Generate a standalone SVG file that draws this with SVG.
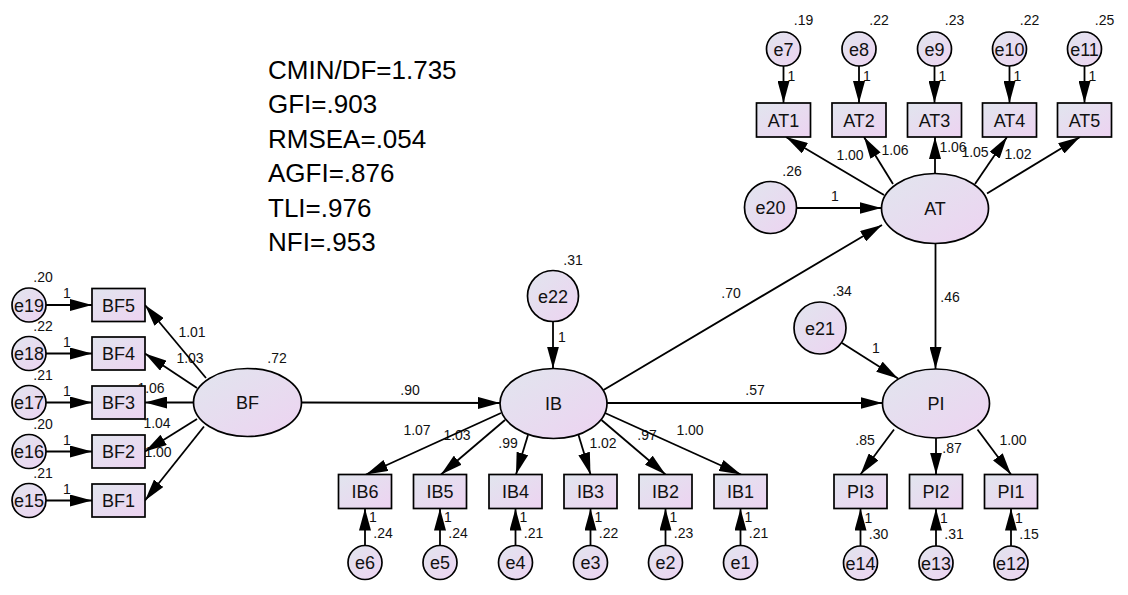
<svg xmlns="http://www.w3.org/2000/svg" width="1128" height="595" viewBox="0 0 1128 595">
<defs>
<linearGradient id="g" x1="0" y1="0" x2="1" y2="1">
<stop offset="0" stop-color="#e1e5ee"/>
<stop offset="1" stop-color="#edd3f1"/>
</linearGradient>
<marker id="arr" markerUnits="userSpaceOnUse" markerWidth="22" markerHeight="12" refX="22" refY="6" orient="auto">
<path d="M0,0 L22,6 L0,12 z" fill="#000"/>
</marker>
<style>
.n{fill:url(#g);stroke:#000;stroke-width:1.7}
.c{stroke:#000;stroke-width:1.8;fill:none;marker-end:url(#arr)}
.t{font-family:"Liberation Sans",Arial,sans-serif;font-size:18px;fill:#111;text-anchor:middle}
.s{font-family:"Liberation Sans",Arial,sans-serif;font-size:14px;fill:#111;text-anchor:middle}
.f{font-family:"Liberation Sans",Arial,sans-serif;font-size:26px;fill:#000}
</style>
</defs>
<rect width="1128" height="595" fill="#fff"/>

<g id="fit">
<text class="f" x="268" y="78.5">CMIN/DF=1.735</text>
<text class="f" x="268" y="113">GFI=.903</text>
<text class="f" x="268" y="147.5">RMSEA=.054</text>
<text class="f" x="268" y="182">AGFI=.876</text>
<text class="f" x="268" y="216.5">TLI=.976</text>
<text class="f" x="268" y="251">NFI=.953</text>
</g>

<g id="labels">
<!-- BF loadings -->
<text class="s" x="192" y="337">1.01</text>
<text class="s" x="190" y="363">1.03</text>
<text class="s" x="151" y="393">1.06</text>
<text class="s" x="157" y="428">1.04</text>
<text class="s" x="158" y="457">1.00</text>
<text class="s" x="277" y="363">.72</text>
<!-- BF errors -->
<text class="s" x="43" y="282">.20</text>
<text class="s" x="43" y="330.5">.22</text>
<text class="s" x="43" y="379.5">.21</text>
<text class="s" x="43" y="428.5">.20</text>
<text class="s" x="43" y="477.5">.21</text>
<text class="s" x="67" y="298">1</text>
<text class="s" x="67" y="346.5">1</text>
<text class="s" x="67" y="395.5">1</text>
<text class="s" x="67" y="444.5">1</text>
<text class="s" x="67" y="493.5">1</text>
<!-- structural -->
<text class="s" x="410" y="395">.90</text>
<text class="s" x="731" y="298">.70</text>
<text class="s" x="755" y="395">.57</text>
<text class="s" x="950" y="302">.46</text>
<text class="s" x="573" y="265">.31</text>
<text class="s" x="562" y="342">1</text>
<text class="s" x="792" y="176">.26</text>
<text class="s" x="835" y="201">1</text>
<text class="s" x="842" y="295.5">.34</text>
<text class="s" x="876" y="353">1</text>
<!-- IB loadings -->
<text class="s" x="417" y="435">1.07</text>
<text class="s" x="457" y="440">1.03</text>
<text class="s" x="508" y="448">.99</text>
<text class="s" x="603" y="448">1.02</text>
<text class="s" x="647" y="440">.97</text>
<text class="s" x="690" y="435">1.00</text>
<!-- IB errors -->
<text class="s" x="373" y="522">1</text>
<text class="s" x="448" y="522">1</text>
<text class="s" x="523.5" y="522">1</text>
<text class="s" x="598.5" y="522">1</text>
<text class="s" x="673.5" y="522">1</text>
<text class="s" x="748.5" y="522">1</text>
<text class="s" x="383" y="538">.24</text>
<text class="s" x="458" y="538">.24</text>
<text class="s" x="533.5" y="538">.21</text>
<text class="s" x="608.5" y="538">.22</text>
<text class="s" x="683.5" y="538">.23</text>
<text class="s" x="758.5" y="538">.21</text>
<!-- PI -->
<text class="s" x="865" y="445">.85</text>
<text class="s" x="952" y="453">.87</text>
<text class="s" x="1013" y="445">1.00</text>
<text class="s" x="868.5" y="523">1</text>
<text class="s" x="944" y="523">1</text>
<text class="s" x="1019" y="523">1</text>
<text class="s" x="878.5" y="539">.30</text>
<text class="s" x="954" y="539">.31</text>
<text class="s" x="1029" y="539">.15</text>
<!-- AT loadings -->
<text class="s" x="850" y="160">1.00</text>
<text class="s" x="895" y="155">1.06</text>
<text class="s" x="953" y="152">1.06</text>
<text class="s" x="975" y="157">1.05</text>
<text class="s" x="1018" y="159">1.02</text>
<!-- AT errors -->
<text class="s" x="803.5" y="25">.19</text>
<text class="s" x="879" y="25">.22</text>
<text class="s" x="954.5" y="25">.23</text>
<text class="s" x="1029.5" y="25">.22</text>
<text class="s" x="1104.5" y="25">.25</text>
<text class="s" x="791.5" y="81">1</text>
<text class="s" x="867" y="81">1</text>
<text class="s" x="942.5" y="81">1</text>
<text class="s" x="1017.5" y="81">1</text>
<text class="s" x="1092.5" y="81">1</text>
</g>

<g id="connectors">
<!-- BF errors -->
<line class="c" x1="46" y1="305" x2="92" y2="305"/>
<line class="c" x1="46" y1="353.5" x2="92" y2="353.5"/>
<line class="c" x1="46" y1="402.5" x2="92" y2="402.5"/>
<line class="c" x1="46" y1="451.5" x2="92" y2="451.5"/>
<line class="c" x1="46" y1="500.5" x2="92" y2="500.5"/>
<!-- BF loadings -->
<line class="c" x1="206" y1="378" x2="145" y2="305"/>
<line class="c" x1="197" y1="388" x2="145" y2="353.5"/>
<line class="c" x1="193.5" y1="402.5" x2="145" y2="402.5"/>
<line class="c" x1="197" y1="419" x2="145" y2="451.5"/>
<line class="c" x1="204" y1="426.5" x2="145" y2="500.5"/>
<!-- structural -->
<line class="c" x1="301.5" y1="402.5" x2="500" y2="403"/>
<line class="c" x1="603.5" y1="390" x2="882" y2="225"/>
<line class="c" x1="607" y1="403" x2="882.5" y2="403"/>
<line class="c" x1="935.5" y1="243.5" x2="935.5" y2="369"/>
<line class="c" x1="553" y1="321.5" x2="553" y2="368.5"/>
<line class="c" x1="796.5" y1="208" x2="881.5" y2="208"/>
<line class="c" x1="842" y1="343" x2="898" y2="378.5"/>
<!-- IB loadings -->
<line class="c" x1="501" y1="413" x2="366" y2="474.5"/>
<line class="c" x1="505" y1="420" x2="441" y2="474.5"/>
<line class="c" x1="528" y1="435" x2="516" y2="474.5"/>
<line class="c" x1="578.5" y1="435" x2="590.5" y2="474.5"/>
<line class="c" x1="601.5" y1="420" x2="665.5" y2="474.5"/>
<line class="c" x1="605" y1="413" x2="741" y2="474.5"/>
<!-- IB errors -->
<line class="c" x1="365" y1="545.5" x2="365" y2="508.5"/>
<line class="c" x1="440" y1="545.5" x2="440" y2="508.5"/>
<line class="c" x1="515.5" y1="545.5" x2="515.5" y2="508.5"/>
<line class="c" x1="590.5" y1="545.5" x2="590.5" y2="508.5"/>
<line class="c" x1="665.5" y1="545.5" x2="665.5" y2="508.5"/>
<line class="c" x1="740.5" y1="545.5" x2="740.5" y2="508.5"/>
<!-- PI loadings -->
<line class="c" x1="894" y1="429.5" x2="860.5" y2="474.5"/>
<line class="c" x1="936" y1="438" x2="936" y2="474.5"/>
<line class="c" x1="977.5" y1="429.5" x2="1011" y2="474.5"/>
<!-- PI errors -->
<line class="c" x1="860.5" y1="546" x2="860.5" y2="508.5"/>
<line class="c" x1="936" y1="546" x2="936" y2="508.5"/>
<line class="c" x1="1011" y1="546" x2="1011" y2="508.5"/>
<!-- AT loadings -->
<line class="c" x1="884" y1="195" x2="786" y2="137"/>
<line class="c" x1="893" y1="184" x2="864" y2="137"/>
<line class="c" x1="935" y1="173.5" x2="935" y2="137"/>
<line class="c" x1="975" y1="184" x2="1007" y2="137"/>
<line class="c" x1="987" y1="193.5" x2="1080" y2="137"/>
<!-- AT errors -->
<line class="c" x1="783.5" y1="66" x2="783.5" y2="103"/>
<line class="c" x1="859" y1="66" x2="859" y2="103"/>
<line class="c" x1="934.5" y1="66" x2="934.5" y2="103"/>
<line class="c" x1="1009.5" y1="66" x2="1009.5" y2="103"/>
<line class="c" x1="1084.5" y1="66" x2="1084.5" y2="103"/>
</g>

<!-- latent variables -->
<g id="BF"><ellipse class="n" cx="247.5" cy="402.5" rx="54" ry="34"/><text class="t" x="247.5" y="409">BF</text></g>
<g id="IB"><ellipse class="n" cx="553.5" cy="403.5" rx="53.5" ry="35"/><text class="t" x="553.5" y="410">IB</text></g>
<g id="AT"><ellipse class="n" cx="935" cy="208.5" rx="53.5" ry="35"/><text class="t" x="935" y="215">AT</text></g>
<g id="PI"><ellipse class="n" cx="936" cy="403.5" rx="53.5" ry="34.5"/><text class="t" x="936" y="410">PI</text></g>

<!-- disturbances -->
<g id="e20"><circle class="n" cx="770.5" cy="207.5" r="26"/><text class="t" x="770.5" y="214">e20</text></g>
<g id="e21"><circle class="n" cx="820" cy="328" r="26"/><text class="t" x="820" y="334.5">e21</text></g>
<g id="e22"><circle class="n" cx="553" cy="296" r="25.5"/><text class="t" x="553" y="302.5">e22</text></g>

<!-- BF indicators -->
<g id="BF5"><rect class="n" x="92" y="288.5" width="53" height="33"/><text class="t" x="118.5" y="311.5">BF5</text></g>
<g id="BF4"><rect class="n" x="92" y="337" width="53" height="33"/><text class="t" x="118.5" y="360">BF4</text></g>
<g id="BF3"><rect class="n" x="92" y="386" width="53" height="33"/><text class="t" x="118.5" y="409">BF3</text></g>
<g id="BF2"><rect class="n" x="92" y="435" width="53" height="33"/><text class="t" x="118.5" y="458">BF2</text></g>
<g id="BF1"><rect class="n" x="92" y="484" width="53" height="33"/><text class="t" x="118.5" y="507">BF1</text></g>
<g id="e19"><circle class="n" cx="29" cy="305" r="17"/><text class="t" x="29" y="311.5">e19</text></g>
<g id="e18"><circle class="n" cx="29" cy="353.5" r="17"/><text class="t" x="29" y="360">e18</text></g>
<g id="e17"><circle class="n" cx="29" cy="402.5" r="17"/><text class="t" x="29" y="409">e17</text></g>
<g id="e16"><circle class="n" cx="29" cy="451.5" r="17"/><text class="t" x="29" y="458">e16</text></g>
<g id="e15"><circle class="n" cx="29" cy="500.5" r="17"/><text class="t" x="29" y="507">e15</text></g>

<!-- IB indicators -->
<g id="IB6"><rect class="n" x="338.5" y="474.5" width="53" height="34"/><text class="t" x="365" y="498">IB6</text></g>
<g id="IB5"><rect class="n" x="413.5" y="474.5" width="53" height="34"/><text class="t" x="440" y="498">IB5</text></g>
<g id="IB4"><rect class="n" x="489" y="474.5" width="53" height="34"/><text class="t" x="515.5" y="498">IB4</text></g>
<g id="IB3"><rect class="n" x="564" y="474.5" width="53" height="34"/><text class="t" x="590.5" y="498">IB3</text></g>
<g id="IB2"><rect class="n" x="639" y="474.5" width="53" height="34"/><text class="t" x="665.5" y="498">IB2</text></g>
<g id="IB1"><rect class="n" x="714" y="474.5" width="53" height="34"/><text class="t" x="740.5" y="498">IB1</text></g>
<g id="e6"><circle class="n" cx="365" cy="562.5" r="17"/><text class="t" x="365" y="569">e6</text></g>
<g id="e5"><circle class="n" cx="440" cy="562.5" r="17"/><text class="t" x="440" y="569">e5</text></g>
<g id="e4"><circle class="n" cx="515.5" cy="562.5" r="17"/><text class="t" x="515.5" y="569">e4</text></g>
<g id="e3"><circle class="n" cx="590.5" cy="562.5" r="17"/><text class="t" x="590.5" y="569">e3</text></g>
<g id="e2"><circle class="n" cx="665.5" cy="562.5" r="17"/><text class="t" x="665.5" y="569">e2</text></g>
<g id="e1"><circle class="n" cx="740.5" cy="562.5" r="17"/><text class="t" x="740.5" y="569">e1</text></g>

<!-- PI indicators -->
<g id="PI3"><rect class="n" x="834" y="474.5" width="53" height="34"/><text class="t" x="860.5" y="498">PI3</text></g>
<g id="PI2"><rect class="n" x="909.5" y="474.5" width="53" height="34"/><text class="t" x="936" y="498">PI2</text></g>
<g id="PI1"><rect class="n" x="984.5" y="474.5" width="53" height="34"/><text class="t" x="1011" y="498">PI1</text></g>
<g id="e14"><circle class="n" cx="860.5" cy="563" r="17"/><text class="t" x="860.5" y="569.5">e14</text></g>
<g id="e13"><circle class="n" cx="936" cy="563" r="17"/><text class="t" x="936" y="569.5">e13</text></g>
<g id="e12"><circle class="n" cx="1011" cy="563" r="17"/><text class="t" x="1011" y="569.5">e12</text></g>

<!-- AT indicators -->
<g id="AT1"><rect class="n" x="756.5" y="103" width="54" height="34"/><text class="t" x="783.5" y="126.5">AT1</text></g>
<g id="AT2"><rect class="n" x="832" y="103" width="54" height="34"/><text class="t" x="859" y="126.5">AT2</text></g>
<g id="AT3"><rect class="n" x="907.5" y="103" width="54" height="34"/><text class="t" x="934.5" y="126.5">AT3</text></g>
<g id="AT4"><rect class="n" x="982.5" y="103" width="54" height="34"/><text class="t" x="1009.5" y="126.5">AT4</text></g>
<g id="AT5"><rect class="n" x="1057.5" y="103" width="54" height="34"/><text class="t" x="1084.5" y="126.5">AT5</text></g>
<g id="e7"><circle class="n" cx="783.5" cy="49" r="17"/><text class="t" x="783.5" y="55.5">e7</text></g>
<g id="e8"><circle class="n" cx="859" cy="49" r="17"/><text class="t" x="859" y="55.5">e8</text></g>
<g id="e9"><circle class="n" cx="934.5" cy="49" r="17"/><text class="t" x="934.5" y="55.5">e9</text></g>
<g id="e10"><circle class="n" cx="1009.5" cy="49" r="17"/><text class="t" x="1009.5" y="55.5">e10</text></g>
<g id="e11"><circle class="n" cx="1084.5" cy="49" r="17"/><text class="t" x="1084.5" y="55.5">e11</text></g>
</svg>
